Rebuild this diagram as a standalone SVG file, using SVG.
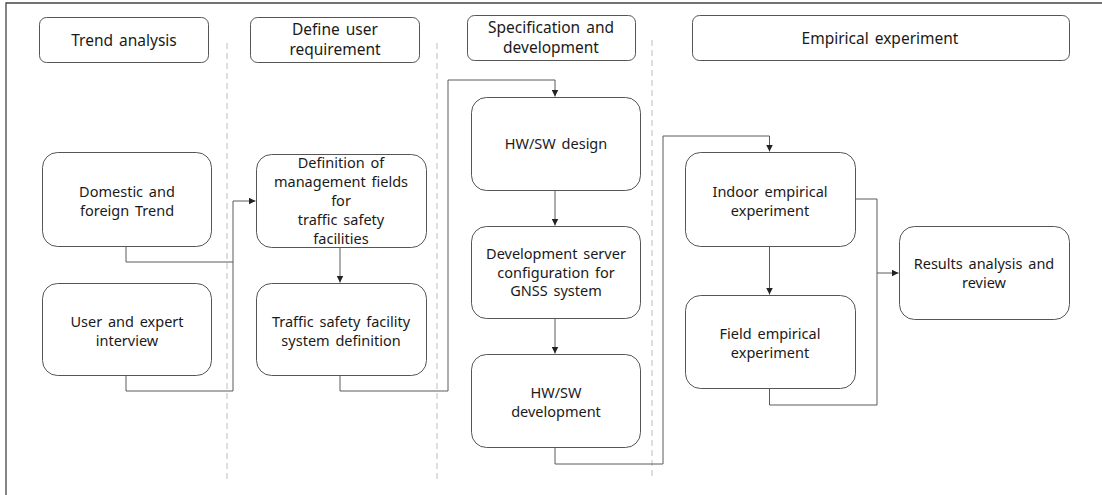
<svg xmlns="http://www.w3.org/2000/svg" width="1102" height="495" viewBox="0 0 1102 495">
  <style>
    .frame { fill: none; stroke: #444; stroke-width: 1.3; }
    .lane { fill: none; stroke: #bdbdbd; stroke-width: 1; stroke-dasharray: 6 4; }
    .head rect { fill: #fff; stroke: #555; stroke-width: 1; }
    .node rect { fill: #fff; stroke: #555; stroke-width: 1; }
    text { font-family: "Noto Sans", "Open Sans", "Noto Sans CJK KR", sans-serif; fill: #1a1a1a; text-anchor: middle; word-spacing: 2px; }
    .head text { font-size: 15.5px; }
    .node text { font-size: 14.5px; }
    .wire { fill: none; stroke: #5a5a5a; stroke-width: 1; }
  </style>
  <defs>
    <marker id="arrow" viewBox="0 0 8 8" refX="8" refY="4" markerWidth="7" markerHeight="7" markerUnits="userSpaceOnUse" orient="auto">
      <path d="M0,0 L8,4 L0,8 z" fill="#222"/>
    </marker>
  </defs>

  <rect width="1102" height="495" fill="#fff"/>
  <!-- outer frame: top and left edges -->
  <path class="frame" d="M6,495 V3 H1102"/>

  <!-- lane separators -->
  <g id="lanes">
    <line class="lane" x1="227" y1="43" x2="227" y2="480"/>
    <line class="lane" x1="437" y1="43" x2="437" y2="480"/>
    <line class="lane" x1="652" y1="40" x2="652" y2="480"/>
  </g>

  <!-- phase headers -->
  <g id="head-trend" class="head">
    <rect x="39.5" y="17.5" width="169" height="45" rx="7"/>
    <text x="124" y="45.5">Trend analysis</text>
  </g>
  <g id="head-define" class="head">
    <rect x="250.5" y="17.5" width="169" height="45" rx="7"/>
    <text x="335" y="34.5">Define user</text>
    <text x="335" y="55">requirement</text>
  </g>
  <g id="head-spec" class="head">
    <rect x="467.5" y="15.5" width="168" height="45" rx="7"/>
    <text x="551" y="32.5">Specification and</text>
    <text x="551" y="53">development</text>
  </g>
  <g id="head-empirical" class="head">
    <rect x="692.5" y="15.5" width="377" height="45" rx="7"/>
    <text x="880" y="43.5">Empirical experiment</text>
  </g>

  <!-- connectors -->
  <g id="connectors">
    <path class="wire" d="M126,246 V262 H233 V201 H255.5" marker-end="url(#arrow)"/>
    <path class="wire" d="M126,375 V391 H233 V262"/>
    <path class="wire" d="M340,247 V282.5" marker-end="url(#arrow)"/>
    <path class="wire" d="M340,375 V391 H448 V80 H555 V96.5" marker-end="url(#arrow)"/>
    <path class="wire" d="M555,190 V225.5" marker-end="url(#arrow)"/>
    <path class="wire" d="M555,318 V353.5" marker-end="url(#arrow)"/>
    <path class="wire" d="M555,447 V464 H663 V136 H769.5 V151.5" marker-end="url(#arrow)"/>
    <path class="wire" d="M769.5,246 V294.5" marker-end="url(#arrow)"/>
    <path class="wire" d="M855,199 H877 V273 H898.5" marker-end="url(#arrow)"/>
    <path class="wire" d="M769.5,388 V405 H877 V273"/>
  </g>

  <!-- trend analysis -->
  <g id="domestic" class="node">
    <rect x="42.5" y="152.5" width="169" height="94" rx="15"/>
    <text x="127" y="197">Domestic and</text>
    <text x="127" y="215.5">foreign Trend</text>
  </g>
  <g id="interview" class="node">
    <rect x="42.5" y="283.5" width="169" height="92" rx="15"/>
    <text x="127" y="327">User and expert</text>
    <text x="127" y="345.5">interview</text>
  </g>

  <!-- user requirement -->
  <g id="fields" class="node">
    <rect x="256.5" y="154.5" width="170" height="93" rx="15"/>
    <text x="341" y="168">Definition of</text>
    <text x="341" y="187">management fields</text>
    <text x="341" y="206">for</text>
    <text x="341" y="225">traffic safety</text>
    <text x="341" y="244">facilities</text>
  </g>
  <g id="system-def" class="node">
    <rect x="256.5" y="283.5" width="170" height="92" rx="15"/>
    <text x="341" y="327">Traffic safety facility</text>
    <text x="341" y="345.5">system definition</text>
  </g>

  <!-- specification and development -->
  <g id="design" class="node">
    <rect x="471.5" y="97.5" width="169" height="93" rx="15"/>
    <text x="556" y="149">HW/SW design</text>
  </g>
  <g id="server" class="node">
    <rect x="471.5" y="226.5" width="169" height="92" rx="15"/>
    <text x="556" y="259">Development server</text>
    <text x="556" y="277.5">configuration for</text>
    <text x="556" y="296">GNSS system</text>
  </g>
  <g id="development" class="node">
    <rect x="471.5" y="354.5" width="169" height="93" rx="15"/>
    <text x="556" y="398">HW/SW</text>
    <text x="556" y="416.5">development</text>
  </g>

  <!-- empirical experiment -->
  <g id="indoor" class="node">
    <rect x="685.5" y="152.5" width="170" height="94" rx="15"/>
    <text x="770" y="197">Indoor empirical</text>
    <text x="770" y="215.5">experiment</text>
  </g>
  <g id="field" class="node">
    <rect x="685.5" y="295.5" width="170" height="93" rx="15"/>
    <text x="770" y="339">Field empirical</text>
    <text x="770" y="357.5">experiment</text>
  </g>
  <g id="results" class="node">
    <rect x="899.5" y="226.5" width="170" height="93" rx="15"/>
    <text x="984" y="269">Results analysis and</text>
    <text x="984" y="287.5">review</text>
  </g>
</svg>
